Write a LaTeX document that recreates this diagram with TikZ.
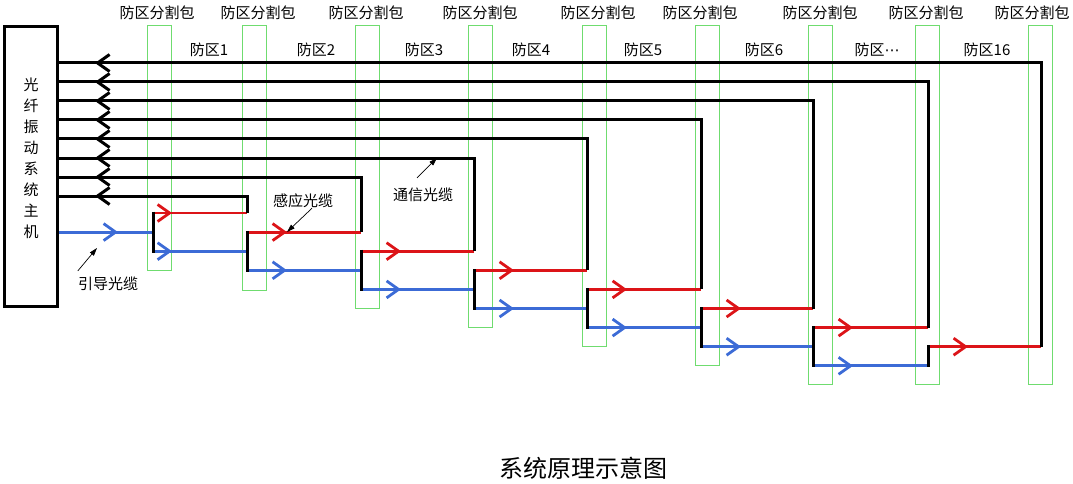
\documentclass[tikz,border=0pt]{standalone}
\usepackage{fontspec}
\usepackage{tikz}
\usetikzlibrary{arrows.meta, positioning}
\newfontfamily\cjk{Noto Sans CJK SC}
\newfontfamily\dotsfont{DejaVu Sans}
\definecolor{cabred}{HTML}{DC1418}
\definecolor{cabblue}{HTML}{3C6BD6}
\definecolor{packgreen}{HTML}{6FDC6F}
\tikzset{
  hostbox/.style={draw=black, line width=3pt, minimum width=53pt, minimum height=280pt, inner sep=0pt},
  packbox/.style={draw=packgreen, line width=0.8pt, minimum width=24pt, inner sep=0pt},
  lbl/.style={font=\cjk\fontsize{15}{18}\selectfont, inner sep=0pt},
  commline/.style={black, line width=3pt},
  senseline/.style={cabred, line width=2.8pt},
  leadline/.style={cabblue, line width=2.8pt},
  barb/.style={-{Straight Barb[length=12pt, width=17pt]}},
  pointer/.style={black, line width=0.7pt, -{Triangle[length=8pt, width=5pt]}},
}

\begin{document}
\begin{tikzpicture}[x=1pt, y=-1pt]
  \useasboundingbox (0,0) rectangle (1073,484);

  % host
  \node[hostbox] (host) at (31,166.5) {};
  \node[lbl, align=center, font=\cjk\fontsize{15}{21}\selectfont] (hostname) at (31,158.5)
    {光\\纤\\振\\动\\系\\统\\主\\机};

  % splice packs
  \foreach \i/\xl/\yb in {1/147/270, 2/242/290, 3/355/308, 4/468/327, 5/582/346,
                          6/695/365, 7/808/384, 8/915/384, 9/1028/384}
    \node[packbox, minimum height={\yb-25}] (pk\i) at ({\xl+12.5},{(25+\yb)/2}) {};
  \foreach \i/\x in {1/157, 2/258, 3/366, 4/480, 5/598, 6/700, 7/820, 8/926, 9/1032}
    \node[lbl] (pl\i) at (\x,13) {防区分割包};
  \foreach \i/\x/\t in {1/209/防区1, 2/316/防区2, 3/424/防区3, 4/531/防区4,
                        5/643/防区5, 6/764/防区6, 7/877/防区{\dotsfont ⋯}, 8/987/防区16}
    \node[lbl] (zn\i) at (\x,50) {\t};

  % lead cable from host
  \coordinate (lead) at (153,232.1);
  \coordinate (leadtip) at (118,232.1);
  \draw[leadline] (host.east |- lead) -- (lead);
  \draw[leadline, barb] (host.east |- lead) -- (leadtip);

  % zones
  \foreach \k/\s/\e in {1/153/247, 2/247/361, 3/361/474, 4/474/587,
                        5/587/701, 6/701/813, 7/813/928, 8/928/1041} {
    \pgfmathsetmacro{\yr}{213+19.1*(\k-1)}
    \pgfmathsetmacro{\yi}{213+19.1*\k}
    \pgfmathsetmacro{\yo}{213+19.1*(\k+1)}
    \pgfmathsetmacro{\yc}{63+19*(8-\k)}
    \pgfmathsetmacro{\tip}{\k==1 ? 19 : 40}
    \pgfmathsetmacro{\yv}{\k<8 ? \yo : \yi}
    \coordinate (sp\k) at (\s,\yr);
    \coordinate (rd\k) at (\e,\yr);
    \coordinate (rt\k) at ({\s+\tip},\yr);
    \coordinate (sb\k) at (\s,\yv);
    \coordinate (cm\k) at (\e,\yc);
    \coordinate (ck\k) at (95,\yc);
    \coordinate (ho\k) at (host.east |- cm\k);
    % sensing cable
    \draw[senseline] (sp\k) -- (rd\k);
    \draw[senseline, barb] (sp\k) -- (rt\k);
    % lead cable on
    \ifnum\k<8
      \coordinate (bo\k) at (\s,\yo);
      \coordinate (be\k) at (\e,\yo);
      \coordinate (bt\k) at ({\s+\tip},\yo);
      \draw[leadline] (bo\k) -- (be\k);
      \draw[leadline, barb] (bo\k) -- (bt\k);
    \fi
    % split + return line
    \draw[commline] ([yshift=1.3pt]sp\k) -- ([yshift=-1.3pt]sb\k);
    \draw[commline] (rd\k) -- (cm\k) -- (ho\k);
    \draw[commline, barb] (cm\k) -- (ck\k);
  }

  % notes
  \node[lbl] (sense) at (303,201) {感应光缆};
  \node[lbl] (leadlbl) at (108,284) {引导光缆};
  \node[lbl] (comm) at (423,195) {通信光缆};
  \coordinate (sensetip) at (287,232);
  \coordinate (leadnote) at (97,248);
  \coordinate (commtip) at (437,158);
  \draw[pointer] ([xshift=9pt]sense.south) -- (sensetip);
  \draw[pointer] ([yshift=6pt]leadlbl.north west) -- (leadnote);
  \draw[pointer] ([xshift=-6pt, yshift=10pt]comm.north) -- (commtip);

  \node[font=\cjk\fontsize{24}{28}\selectfont] (title) at (583,468) {系统原理示意图};
\end{tikzpicture}
\end{document}
